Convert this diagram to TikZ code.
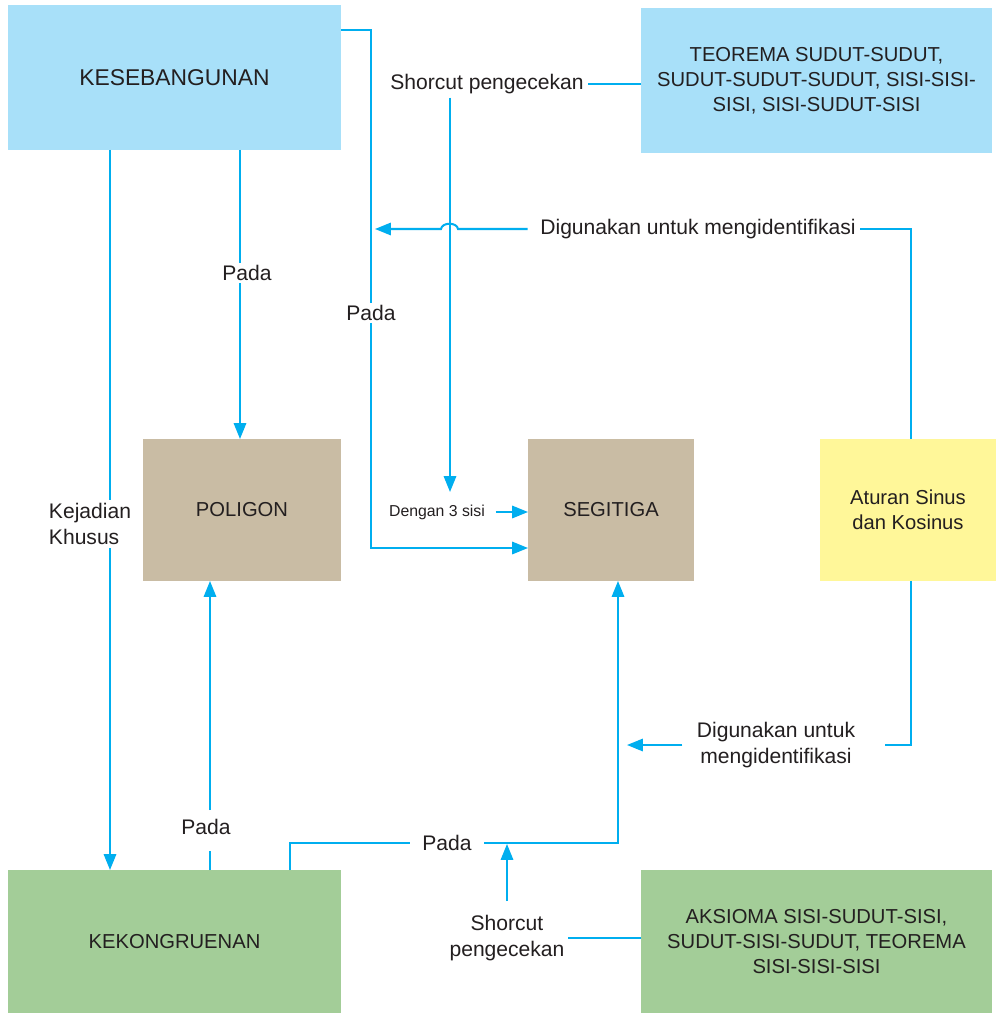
\documentclass[tikz,border=0pt]{standalone}
\usepackage{fontspec}
\setmainfont{Liberation Sans}
\usetikzlibrary{arrows.meta}
\definecolor{lc}{RGB}{0,174,239}
\definecolor{cblue}{RGB}{168,224,249}
\definecolor{ctan}{RGB}{201,188,164}
\definecolor{cyel}{RGB}{255,247,153}
\definecolor{cgreen}{RGB}{163,205,152}
\definecolor{txt}{RGB}{35,31,32}
\begin{document}
\begin{tikzpicture}[x=0.02cm,y=-0.02cm,
  box/.style={inner sep=0pt, outer sep=0pt, text=txt, align=center, font=\fontsize{11.5}{14.2}\selectfont},
  lab/.style={fill=white, text=txt, inner sep=1pt, align=center, font=\fontsize{12}{14.5}\selectfont},
  ln/.style={draw=lc, line width=1.15pt},
  arr/.style={ln, -{Triangle[length=9pt,width=7pt]}},
]
\fill[white] (0,0) rectangle (999,1014);
\useasboundingbox (0,0) rectangle (999,1014);

% boxes
\node[box, fill=cblue, minimum width=6.66cm, minimum height=2.9cm, font=\fontsize{13}{15}\selectfont] (kes) at (174.5,77.5) {KESEBANGUNAN};
\node[box, fill=cblue, minimum width=7.02cm, minimum height=2.9cm] (teo) at (816.5,80.5) {TEOREMA SUDUT-SUDUT,\\SUDUT-SUDUT-SUDUT, SISI-SISI-\\SISI, SISI-SUDUT-SISI};
\node[box, fill=ctan, minimum width=3.96cm, minimum height=2.84cm] (pol) at (242,510) {POLIGON};
\node[box, fill=ctan, minimum width=3.32cm, minimum height=2.84cm] (seg) at (611,510) {SEGITIGA};
\node[box, fill=cyel, minimum width=3.52cm, minimum height=2.84cm] (atu) at (908,510) {Aturan Sinus\\dan Kosinus};
\node[box, fill=cgreen, minimum width=6.66cm, minimum height=2.86cm] (kek) at (174.5,941.5) {KEKONGRUENAN};
\node[box, fill=cgreen, minimum width=7.02cm, minimum height=2.86cm] (aks) at (816.5,941.5) {AKSIOMA SISI-SUDUT-SISI,\\SUDUT-SISI-SUDUT, TEOREMA\\SISI-SISI-SISI};

% labels
\node[lab] (pada1) at (371,313) {Pada};
\node[lab] (pada2) at (247,273) {Pada};
\node[lab, inner ysep=5pt] (pada3) at (206,827) {Pada};
\node[lab, inner xsep=7pt] (pada4) at (447,843) {Pada};
\node[lab, align=left, inner sep=2pt] (kej) at (90,524) {Kejadian\\Khusus};
\node[lab, inner sep=2pt] (dig1) at (698,229) {Digunakan untuk mengidentifikasi};
\node[lab, inner sep=2pt] (sc1) at (487,84) {Shorcut pengecekan};
\node[lab, inner xsep=6pt, inner ysep=2pt, font=\fontsize{9}{11}\selectfont] (den) at (437,512) {Dengan 3 sisi};
\node[lab, inner sep=2pt] (dig2) at (776,745) {Digunakan untuk\\mengidentifikasi};
\node[lab, inner sep=2pt] (sc2) at (507,938) {Shorcut\\pengecekan};

% free ends
\coordinate (j1) at (375,229);
\coordinate (j2) at (627,745);
\coordinate (j3) at (507,844);

% connectors
\draw[ln] (kes.east |- 0,30) -| (pada1.north);
\draw[arr] (pada1.south) |- (seg.west |- 0,548);

\draw[arr, shorten <=5pt] (dig1.west) -- (458,229) .. controls (457,222) and (442,222) .. (441,229) -- (j1);
\draw[ln] (atu.north -| 911,0) |- (dig1.east);

\draw[ln] (teo.west |- sc1.east) -- (sc1.east);
\draw[arr, shorten >=5pt] (sc1.south -| 450,0) -- (den.north -| 450,0);
\draw[arr] (den.east) -- (seg.west |- den.east);

\draw[ln] (kes.south -| 110,0) -- (kej.north -| 110,0);
\draw[arr] (kej.south -| 110,0) -- (kek.north -| 110,0);

\draw[ln] (kes.south -| 240,0) -- (pada2.north -| 240,0);
\draw[arr] (pada2.south -| 240,0) -- (pol.north -| 240,0);

\draw[ln, shorten >=4pt] (kek.north -| 210,0) -- (pada3.south -| 210,0);
\draw[arr] (pada3.north -| 210,0) -- (pol.south -| 210,0);

\draw[ln] (kek.north -| 290,0) |- (pada4.west);
\draw[arr] (pada4.east) -| (seg.south -| 618,0);

\draw[ln, shorten >=15pt] (atu.south -| 911,0) |- (dig2.east);
\draw[arr, shorten <=6pt] (dig2.west) -- (j2);

\draw[ln] (aks.west |- sc2.east) -- (sc2.east);
\draw[arr, shorten <=6pt] (sc2.north) -- (j3);
\end{tikzpicture}
\end{document}
